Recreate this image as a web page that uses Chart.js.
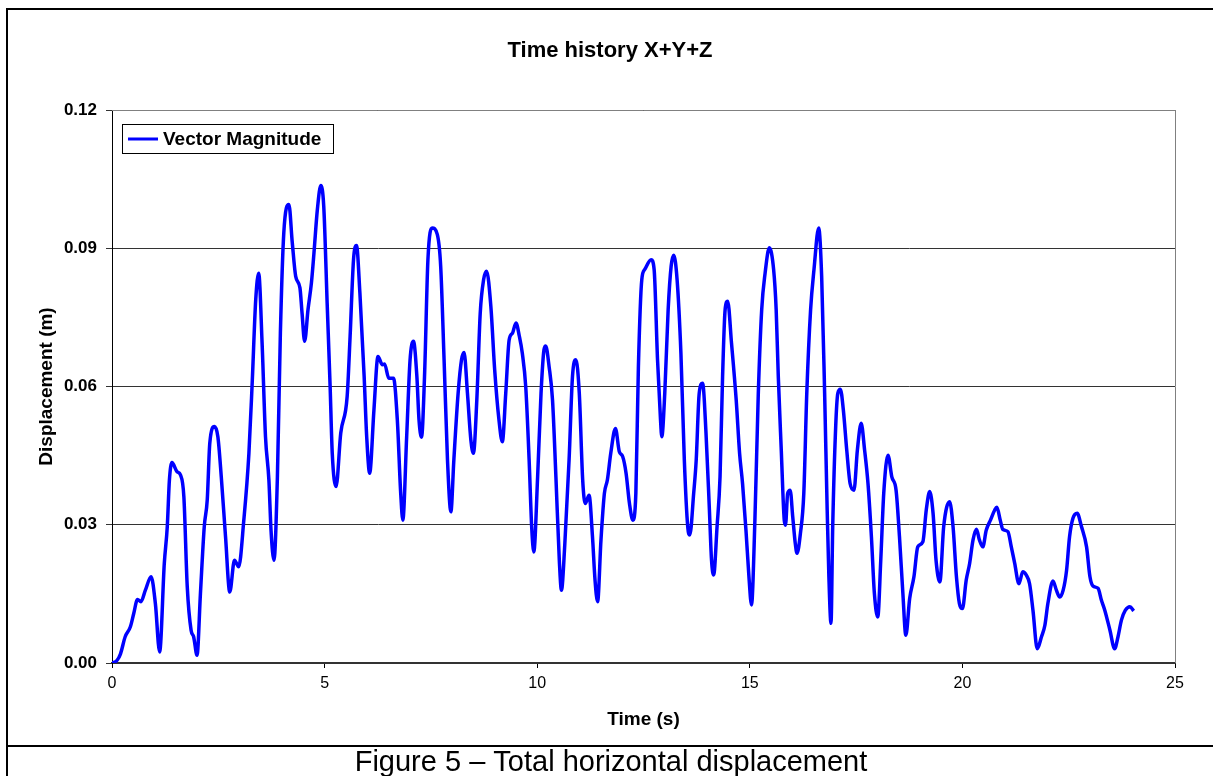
<!DOCTYPE html>
<html>
<head>
<meta charset="utf-8">
<script src="https://cdn.jsdelivr.net/npm/chart.js@4.4.0/dist/chart.umd.min.js"></script>
<style>
  body { margin: 0; background: #fff; }
  canvas { display: block; }
</style>
</head>
<body>
<canvas id="chart" width="1213" height="776"></canvas>
<script>
// values (time in s, displacement in m)
var time = [0.00, 0.12, 0.20, 0.31, 0.43, 0.51, 0.60, 0.68, 0.785, 0.92, 1.02, 1.12, 1.23, 1.30, 1.35, 1.41, 1.53, 1.61, 1.69, 1.77,
  1.86, 1.92, 2.00, 2.08, 2.17, 2.24, 2.30, 2.41, 2.49, 2.57, 2.67, 2.77, 2.88, 2.98, 3.10, 3.22, 3.30, 3.38, 3.45, 3.53,
  3.61, 3.69, 3.74, 3.81, 3.89, 3.96, 4.04, 4.16, 4.24, 4.32, 4.42, 4.47, 4.53, 4.61, 4.69, 4.75, 4.83, 4.91, 4.98, 5.06,
  5.13, 5.18, 5.27, 5.38, 5.53, 5.60, 5.68, 5.75, 5.83, 5.93, 5.99, 6.06, 6.16, 6.255, 6.36, 6.41, 6.51, 6.62, 6.71, 6.79,
  6.84, 6.93, 7.01, 7.09, 7.17, 7.22, 7.28, 7.35, 7.43, 7.53, 7.65, 7.73, 7.81, 7.89, 7.97, 8.04, 8.14, 8.22, 8.28, 8.36,
  8.44, 8.50, 8.58, 8.66, 8.74, 8.81, 8.91, 9.00, 9.10, 9.18, 9.26, 9.34, 9.42, 9.50, 9.58, 9.65, 9.73, 9.81, 9.87, 9.92,
  10.01, 10.09, 10.16, 10.20, 10.28, 10.36, 10.44, 10.52, 10.57, 10.65, 10.75, 10.83, 10.91, 10.99, 11.07, 11.13, 11.22, 11.30, 11.36, 11.42,
  11.50, 11.58, 11.65, 11.73, 11.84, 11.93, 12.01, 12.09, 12.17, 12.25, 12.32, 12.38, 12.46, 12.53, 12.68, 12.75, 12.83, 12.90, 12.93, 13.00,
  13.08, 13.15, 13.21, 13.29, 13.38, 13.46, 13.54, 13.59, 13.68, 13.74, 13.81, 13.89, 13.97, 14.05, 14.10, 14.15, 14.23, 14.30, 14.36, 14.42,
  14.48, 14.57, 14.68, 14.76, 14.83, 14.91, 14.98, 15.04, 15.12, 15.20, 15.28, 15.36, 15.46, 15.56, 15.62, 15.67, 15.74, 15.81, 15.84, 15.89,
  15.95, 16.01, 16.07, 16.11, 16.19, 16.27, 16.34, 16.43, 16.51, 16.62, 16.69, 16.76, 16.82, 16.86, 16.91, 16.95, 17.02, 17.07, 17.13, 17.20,
  17.28, 17.36, 17.45, 17.53, 17.62, 17.70, 17.78, 17.86, 17.93, 18.01, 18.08, 18.15, 18.25, 18.34, 18.44, 18.52, 18.60, 18.67, 18.76, 18.86,
  18.95, 19.07, 19.15, 19.23, 19.31, 19.38, 19.47, 19.56, 19.70, 19.78, 19.86, 19.93, 20.00, 20.09, 20.17, 20.25, 20.33, 20.40, 20.48, 20.56,
  20.66, 20.76, 20.81, 20.89, 20.95, 21.07, 21.15, 21.23, 21.33, 21.42, 21.50, 21.58, 21.66, 21.76, 21.86, 21.94, 22.01, 22.13, 22.21, 22.29,
  22.37, 22.45, 22.52, 22.60, 22.70, 22.80, 22.92, 23.00, 23.07, 23.19, 23.27, 23.35, 23.47, 23.58, 23.66, 23.74, 23.83, 23.94, 24.03];

var vectorMagnitude = [0.0000, 0.0006, 0.0020, 0.0057, 0.0078, 0.0107, 0.0138, 0.0133, 0.0158, 0.0187, 0.0129, 0.0024, 0.0216, 0.0296, 0.0397, 0.0435, 0.0415, 0.0408, 0.0361, 0.0165,
  0.0071, 0.0057, 0.0017, 0.0151, 0.0296, 0.0354, 0.0477, 0.0513, 0.0491, 0.0404, 0.0274, 0.0154, 0.0223, 0.0209, 0.0310, 0.0455, 0.0614, 0.0788, 0.0846, 0.0694,
  0.0491, 0.0397, 0.0288, 0.0223, 0.0404, 0.0716, 0.0933, 0.0995, 0.0912, 0.0839, 0.0814, 0.0759, 0.0698, 0.0767, 0.0825, 0.0890, 0.0984, 0.1036, 0.0991, 0.0781,
  0.0600, 0.0455, 0.0383, 0.0499, 0.0578, 0.0709, 0.0875, 0.0906, 0.0803, 0.0622, 0.0491, 0.0412, 0.0549, 0.0665, 0.0647, 0.0649, 0.0618, 0.0618, 0.0528, 0.0368,
  0.0310, 0.0491, 0.0658, 0.0698, 0.0622, 0.0528, 0.0490, 0.0622, 0.0875, 0.0944, 0.0930, 0.0861, 0.0658, 0.0441, 0.0328, 0.0441, 0.0585, 0.0658, 0.0674, 0.0585,
  0.0484, 0.0455, 0.0571, 0.0759, 0.0832, 0.0850, 0.0774, 0.0636, 0.0528, 0.0480, 0.0585, 0.0701, 0.0716, 0.0738, 0.0709, 0.0672, 0.0600, 0.0441, 0.0296, 0.0241,
  0.0404, 0.0585, 0.0680, 0.0688, 0.0643, 0.0571, 0.0404, 0.0223, 0.0158, 0.0259, 0.0441, 0.0622, 0.0658, 0.0585, 0.0397, 0.0346, 0.0364, 0.0274, 0.0180, 0.0133,
  0.0267, 0.0368, 0.0397, 0.0455, 0.0509, 0.0459, 0.0448, 0.0412, 0.0346, 0.0310, 0.0368, 0.0643, 0.0832, 0.0854, 0.0875, 0.0854, 0.0658, 0.0528, 0.0491, 0.0585,
  0.0767, 0.0861, 0.0885, 0.0832, 0.0672, 0.0441, 0.0296, 0.0278, 0.0368, 0.0441, 0.0585, 0.0607, 0.0499, 0.0332, 0.0223, 0.0191, 0.0296, 0.0404, 0.0622, 0.0767,
  0.0785, 0.0694, 0.0571, 0.0455, 0.0389, 0.0288, 0.0187, 0.0126, 0.0310, 0.0585, 0.0767, 0.0846, 0.0901, 0.0854, 0.0767, 0.0622, 0.0462, 0.0310, 0.0299, 0.0368,
  0.0375, 0.0317, 0.0259, 0.0238, 0.0281, 0.0368, 0.0585, 0.0767, 0.0854, 0.0944, 0.0839, 0.0585, 0.0332, 0.0187, 0.0086, 0.0296, 0.0513, 0.0585, 0.0594, 0.0549,
  0.0462, 0.0389, 0.0375, 0.0462, 0.0520, 0.0462, 0.0389, 0.0274, 0.0151, 0.0100, 0.0223, 0.0368, 0.0451, 0.0404, 0.0375, 0.0274, 0.0151, 0.0060, 0.0140, 0.0187,
  0.0252, 0.0263, 0.0332, 0.0372, 0.0325, 0.0223, 0.0176, 0.0296, 0.0350, 0.0296, 0.0187, 0.0129, 0.0118, 0.0180, 0.0216, 0.0267, 0.0290, 0.0267, 0.0252, 0.0288,
  0.0310, 0.0332, 0.0338, 0.0310, 0.0290, 0.0285, 0.0252, 0.0216, 0.0172, 0.0198, 0.0191, 0.0172, 0.0114, 0.0031, 0.0057, 0.0082, 0.0129, 0.0178, 0.0158, 0.0143,
  0.0158, 0.0201, 0.0274, 0.0314, 0.0325, 0.0296, 0.0252, 0.0187, 0.0167, 0.0162, 0.0136, 0.0114, 0.0071, 0.0031, 0.0057, 0.0093, 0.0114, 0.0122, 0.0113];

var xTicks = [0, 5, 10, 15, 20, 25];
var yTicks = [0, 0.03, 0.06, 0.09, 0.12];

var FONT = "'Liberation Sans', Arial, sans-serif";

var points = [];
for (var i = 0; i < time.length; i++) {
  points.push({x: time[i], y: vectorMagnitude[i]});
}

// title, frame, legend box and caption around the plot
var decorations = {
  id: 'decorations',
  beforeDraw: function (chart) {
    var ctx = chart.ctx;
    ctx.save();
    ctx.fillStyle = '#fff';
    ctx.fillRect(0, 0, chart.width, chart.height);
    ctx.restore();
  },
  afterDraw: function (chart) {
    var ctx = chart.ctx, a = chart.chartArea;
    ctx.save();
    // chart title, centred on the whole figure box
    ctx.fillStyle = '#000';
    ctx.font = 'bold 22px ' + FONT;
    ctx.textAlign = 'center';
    ctx.textBaseline = 'middle';
    ctx.fillText('Time history X+Y+Z', 610, 51);

    // top and right edges of the plot area
    ctx.strokeStyle = '#808080';
    ctx.lineWidth = 1;
    ctx.beginPath();
    ctx.moveTo(a.left, Math.round(a.top) + 0.5);
    ctx.lineTo(a.right, Math.round(a.top) + 0.5);
    ctx.moveTo(Math.round(a.right) + 0.5, a.top);
    ctx.lineTo(Math.round(a.right) + 0.5, a.bottom);
    ctx.stroke();

    // legend inside the plot
    ctx.fillStyle = '#fff';
    ctx.fillRect(122, 124, 211, 29);
    ctx.strokeStyle = '#000';
    ctx.strokeRect(122.5, 124.5, 211, 29);
    ctx.strokeStyle = '#0000ff';
    ctx.lineWidth = 3;
    ctx.beginPath();
    ctx.moveTo(128, 139);
    ctx.lineTo(158, 139);
    ctx.stroke();
    ctx.fillStyle = '#000';
    ctx.font = 'bold 19px ' + FONT;
    ctx.textAlign = 'left';
    ctx.fillText(chart.data.datasets[0].label, 163, 140);

    // outer figure border and caption
    ctx.strokeStyle = '#000';
    ctx.lineWidth = 2;
    ctx.beginPath();
    ctx.moveTo(7, chart.height);
    ctx.lineTo(7, 9);
    ctx.lineTo(chart.width, 9);
    ctx.moveTo(7, 746);
    ctx.lineTo(chart.width, 746);
    ctx.stroke();
    ctx.font = '29px ' + FONT;
    ctx.textAlign = 'center';
    ctx.textBaseline = 'alphabetic';
    ctx.fillText('Figure 5 \u2013 Total horizontal displacement', 611, 771);
    ctx.restore();
  }
};

new Chart(document.getElementById('chart'), {
  type: 'line',
  data: {
    datasets: [{
      label: 'Vector Magnitude',
      data: points,
      borderColor: '#0000ff',
      borderWidth: 3.5,
      pointRadius: 0,
      fill: false,
      tension: 0.4,
      cubicInterpolationMode: 'monotone'
    }]
  },
  options: {
    responsive: false,
    animation: false,
    devicePixelRatio: 1,
    layout: { padding: { left: 7, right: 38, top: 110, bottom: 0 } },
    plugins: {
      legend: { display: false },
      tooltip: { enabled: false },
      title: { display: false }
    },
    scales: {
      x: {
        type: 'linear',
        min: 0,
        max: 25,
        afterBuildTicks: function (s) { s.ticks = xTicks.map(function (v) { return {value: v}; }); },
        afterFit: function (s) { s.height = 113; },
        ticks: { color: '#000', font: { family: FONT, size: 16 }, padding: 6, maxRotation: 0 },
        grid: { drawOnChartArea: false, drawTicks: true, tickLength: 5, color: '#000' },
        border: { color: '#333', width: 2 },
        title: {
          display: true,
          text: 'Time (s)',
          color: '#000',
          font: { family: FONT, size: 19, weight: 'bold' },
          padding: { top: 0, bottom: 45 }
        }
      },
      y: {
        min: 0,
        max: 0.12,
        afterBuildTicks: function (s) { s.ticks = yTicks.map(function (v) { return {value: v}; }); },
        afterFit: function (s) { s.width = 105; },
        ticks: {
          color: '#000',
          font: { family: FONT, size: 17, weight: 'bold' },
          padding: 9,
          callback: function (v) { return v.toFixed(2); }
        },
        grid: { color: '#333', lineWidth: 1, tickLength: 6 },
        border: { color: '#000', width: 1 },
        title: {
          display: true,
          text: 'Displacement (m)',
          color: '#000',
          font: { family: FONT, size: 19, weight: 'bold' },
          padding: { top: 28, bottom: 0 }
        }
      }
    }
  },
  plugins: [decorations]
});
</script>
</body>
</html>
